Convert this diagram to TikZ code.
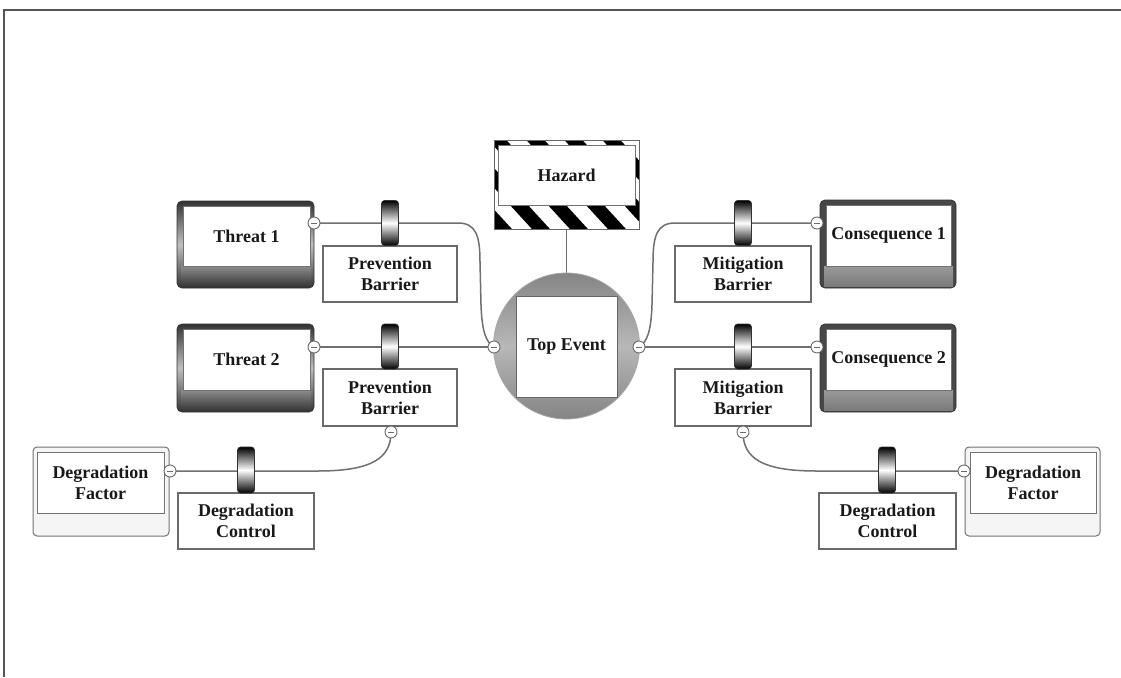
\documentclass[tikz,border=0pt]{standalone}
\usepackage{fontspec}
\setmainfont{Liberation Serif}
\usetikzlibrary{backgrounds}
\definecolor{linec}{HTML}{707070}
\definecolor{framec}{HTML}{555555}
\definecolor{boxc}{HTML}{6A6A6A}
\tikzset{
  lbl/.style={font=\fontsize{18}{21}\selectfont\bfseries, align=center, text=black!90},
  conn/.style={draw=linec, line width=1.5pt},
  plainbox/.style={draw=boxc, line width=1.2pt, fill=white, inner sep=0pt},
  roller/.style={rounded corners=3pt, top color=black, bottom color=black, middle color=white, draw=black!80, line width=0.6pt},
  knob/.style={circle, draw=boxc, fill=white, line width=0.9pt, minimum size=12pt, inner sep=0pt,
    path picture={\draw[boxc, line width=0.9pt] ([xshift=-2.6pt]path picture bounding box.center) -- ([xshift=2.6pt]path picture bounding box.center);}},
  darkouter/.style={rounded corners=5pt, top color=black!80, bottom color=black!80, middle color=black!25, draw=black!80, line width=0.8pt},
  darkband/.style={top color=black!45, bottom color=black!78},
  lightband/.style={top color=black!40, bottom color=black!52},
  innerwhite/.style={fill=white, draw=black!55, line width=0.8pt},
  dfouter/.style={rounded corners=4pt, fill=black!4, draw=black!55, line width=1pt},
}
\begin{document}
\begin{tikzpicture}[x=1pt,y=-1pt]
\useasboundingbox (0,0) rectangle (1121,677);
% frame
\draw[framec, line width=2pt] (4,677) -- (4,10) -- (1121,10);

% ---------- Hazard ----------
\node[inner sep=0pt, minimum width=145pt, minimum height=89pt] (hzo) at (566.5,184.5) {};
\begin{scope}
  \clip (494,140) rectangle (639,229);
  \fill[white] (494,140) rectangle (639,229);
  \foreach \i in {-4,...,5} {
    \fill[black] ({470+38*\i},120) -- ({488+38*\i},120) -- ({598+38*\i},240) -- ({580+38*\i},240) -- cycle;
  }
\end{scope}
\draw[black!60, line width=0.8pt] (494,140) rectangle (639,229);
\node[innerwhite, lbl, minimum width=137pt, minimum height=60pt, inner sep=0pt] (hz) at (566.5,175) {Hazard};

% ---------- Top event ----------
\node[circle, minimum size=146pt, inner sep=0pt, top color=black!48, bottom color=black!48, middle color=black!28, draw=black!35, line width=0.8pt] (tec) at (566.5,346) {};
\node[innerwhite, lbl, minimum width=101pt, minimum height=101pt, inner sep=0pt, draw=black!60] (te) at (566.5,346.5) {Top Event};

% ---------- Threats ----------
\node[darkouter, minimum width=137pt, minimum height=87pt, inner sep=0pt] (t1o) at (245.5,244.5) {};
\fill[darkband] (181,266) rectangle (311,286);
\node[innerwhite, lbl, minimum width=127pt, minimum height=60pt, inner sep=0pt] (t1) at (246.5,236) {Threat 1};

\node[darkouter, minimum width=137pt, minimum height=88pt, inner sep=0pt] (t2o) at (245.5,368) {};
\fill[darkband] (181,390) rectangle (311,410);
\node[innerwhite, lbl, minimum width=127pt, minimum height=61pt, inner sep=0pt] (t2) at (246.5,359.5) {Threat 2};

% ---------- Consequences ----------
\node[darkouter, minimum width=136pt, minimum height=88pt, inner sep=0pt, middle color=black!20, top color=black!72, bottom color=black!72] (c1o) at (888,244) {};
\fill[lightband] (824,266) rectangle (953,286);
\node[innerwhite, lbl, minimum width=125pt, minimum height=61pt, inner sep=0pt] (c1) at (888.5,235.5) {Consequence 1};

\node[darkouter, minimum width=136pt, minimum height=88pt, inner sep=0pt, middle color=black!20, top color=black!72, bottom color=black!72] (c2o) at (888,368) {};
\fill[lightband] (824,390) rectangle (953,410);
\node[innerwhite, lbl, minimum width=125pt, minimum height=61pt, inner sep=0pt] (c2) at (888.5,359.5) {Consequence 2};

% ---------- Degradation factors ----------
\node[dfouter, minimum width=136pt, minimum height=89pt, inner sep=0pt] (dlo) at (101,491.5) {};
\node[innerwhite, lbl, minimum width=127pt, minimum height=61pt, inner sep=0pt] (dl) at (100.5,482.5) {Degradation\\Factor};
\node[dfouter, minimum width=135pt, minimum height=89pt, inner sep=0pt] (dro) at (1032.5,491.5) {};
\node[innerwhite, lbl, minimum width=126pt, minimum height=61pt, inner sep=0pt] (dr) at (1033,482.5) {Degradation\\Factor};

% ---------- Barrier boxes ----------
\node[plainbox, lbl, minimum width=134pt, minimum height=56pt] (pb1) at (390,274) {Prevention\\Barrier};
\node[plainbox, lbl, minimum width=134pt, minimum height=57pt] (pb2) at (390,397.5) {Prevention\\Barrier};
\node[plainbox, lbl, minimum width=136pt, minimum height=56pt] (mb1) at (743,274) {Mitigation\\Barrier};
\node[plainbox, lbl, minimum width=136pt, minimum height=57pt] (mb2) at (743,397.5) {Mitigation\\Barrier};
\node[plainbox, lbl, minimum width=136pt, minimum height=56pt] (dcl) at (246,521) {Degradation\\Control};
\node[plainbox, lbl, minimum width=137pt, minimum height=56pt] (dcr) at (887.5,521) {Degradation\\Control};

% ---------- Rollers ----------
\node[roller, minimum width=17pt, minimum height=45pt, inner sep=0pt] (r1) at (390,223) {};
\node[roller, minimum width=17pt, minimum height=45pt, inner sep=0pt] (r2) at (390,346.5) {};
\node[roller, minimum width=17pt, minimum height=45pt, inner sep=0pt] (r3) at (743,223) {};
\node[roller, minimum width=17pt, minimum height=45pt, inner sep=0pt] (r4) at (743,346.5) {};
\node[roller, minimum width=17pt, minimum height=46pt, inner sep=0pt] (r5) at (246,470) {};
\node[roller, minimum width=17pt, minimum height=46pt, inner sep=0pt] (r6) at (887,470) {};

% ---------- connector knobs ----------
\node[knob] (kt1) at (314,223) {};
\node[knob] (kt2) at (314,347) {};
\node[knob] (kel) at (494,347) {};
\node[knob] (ker) at (639,347) {};
\node[knob] (kc1) at (817,223) {};
\node[knob] (kc2) at (817,347) {};
\node[knob] (kpb) at (391,432) {};
\node[knob] (kmb) at (743,432) {};
\node[knob] (kdl) at (170,471) {};
\node[knob] (kdr) at (964,471) {};

% ---------- connectors (behind everything) ----------
\begin{pgfonlayer}{background}
\fill[white] (0,0) rectangle (1121,677);
\draw[conn] (kt1.center) -- (458,223) .. controls (476,223) and (480,236) .. (480,262)
  -- (481,305) .. controls (482,332) and (486,342) .. (kel.center);
\draw[conn] (kt2.center) -- (kel.center);
\draw[conn] (kc1.center) -- (675,223) .. controls (657,223) and (653,236) .. (653,262)
  -- (652,305) .. controls (651,332) and (647,342) .. (ker.center);
\draw[conn] (ker.center) -- (kc2.center);
\draw[conn] (kdl.center) -- (318,471) .. controls (372,471) and (391,458) .. (kpb.center);
\draw[conn] (kmb.center) .. controls (743,458) and (762,471) .. (816,471) -- (kdr.center);
\draw[conn] (hzo.south) -- (tec.north);
\end{pgfonlayer}
\end{tikzpicture}
\end{document}
